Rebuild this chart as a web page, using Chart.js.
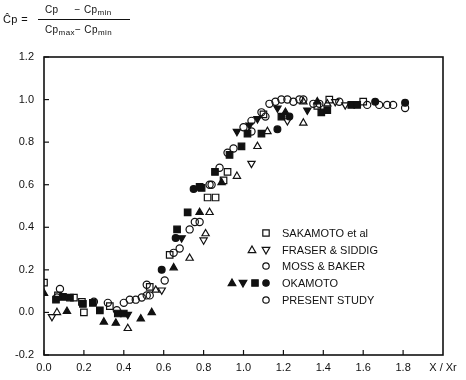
<!DOCTYPE html>
<html>
<head>
<meta charset="utf-8">
<script src="https://cdn.jsdelivr.net/npm/chart.js@4.4.0/dist/chart.umd.min.js"></script>
<style>
  html, body { margin: 0; padding: 0; background: #fff; }
  #wrap { position: relative; width: 466px; height: 380px; font-family: "Liberation Sans", Arial, sans-serif; color: #111; }
  canvas { position: absolute; left: 0; top: 0; }
  .t { position: absolute; font-size: 10px; white-space: nowrap; letter-spacing: 0.4px; }
  .t sub { font-size: 8px; vertical-align: -2px; line-height: 0; }
  #fline { position: absolute; left: 38px; top: 19px; width: 92px; height: 0; border-top: 1.2px solid #111; }
</style>
</head>
<body>
<div id="wrap">
  <canvas id="c" width="466" height="380"></canvas>
  <div class="t" style="left:3px; top:13px; font-size:11px;">Ĉp =</div>
  <div class="t" style="left:45px; top:4px;">Cp &nbsp;&nbsp;&nbsp; − Cp<sub>min</sub></div>
  <div id="fline"></div>
  <div class="t" style="left:45px; top:24px;">Cp<sub>max</sub>− Cp<sub>min</sub></div>
</div>
<script>
// ---- Data ----
const xTickValues = [0.0, 0.2, 0.4, 0.6, 0.8, 1.0, 1.2, 1.4, 1.6, 1.8];
const xAxisTitle = "X / Xr";
const yTickValues = [-0.2, 0.0, 0.2, 0.4, 0.6, 0.8, 1.0, 1.2];

const legendLabels = ["SAKAMOTO et al", "FRASER & SIDDIG", "MOSS & BAKER", "OKAMOTO", "PRESENT STUDY"];

const sakamotoX = [0.0, 0.07, 0.15, 0.19, 0.20, 0.33, 0.53, 0.63, 0.82, 0.86, 0.90, 0.92, 1.10, 1.37, 1.43, 1.60];
const sakamotoY = [0.14, 0.08, 0.07, 0.05, 0.0, 0.03, 0.12, 0.27, 0.54, 0.54, 0.62, 0.66, 0.93, 0.97, 1.0, 0.99];

const fraserUpX = [0.065, 0.42, 0.56, 0.73, 0.81, 0.83, 0.967, 1.07, 1.12, 1.30, 1.30, 1.42];
const fraserUpY = [0.0, -0.075, 0.105, 0.255, 0.37, 0.47, 0.64, 0.78, 0.85, 0.89, 0.99, 0.98];
const fraserDownX = [0.04, 0.59, 0.80, 1.04, 1.22, 1.46, 1.51];
const fraserDownY = [-0.02, 0.105, 0.34, 0.70, 0.90, 0.99, 0.975];

const mossX = [0.065, 0.08, 0.25, 0.32, 0.40, 0.43, 0.46, 0.49, 0.515, 0.515, 0.53, 0.605, 0.65, 0.68, 0.73, 0.756, 0.78, 0.84, 0.88, 0.92, 0.95, 1.00, 1.04, 1.04];
const mossY = [0.07, 0.11, 0.05, 0.045, 0.045, 0.06, 0.06, 0.07, 0.08, 0.13, 0.08, 0.15, 0.28, 0.30, 0.39, 0.425, 0.425, 0.60, 0.68, 0.75, 0.77, 0.87, 0.85, 0.90];

const okaTriUpX = [0.0, 0.115, 0.30, 0.36, 0.485, 0.54, 0.65, 0.78, 0.89, 1.21, 1.37];
const okaTriUpY = [0.09, 0.005, -0.045, -0.05, -0.03, 0.0, 0.21, 0.47, 0.61, 0.94, 0.99];
const okaTriDownX = [0.42, 0.69, 0.967, 1.03, 1.07, 1.17, 1.32];
const okaTriDownY = [-0.01, 0.35, 0.85, 0.88, 0.91, 0.96, 0.95];
const okaSquareX = [0.06, 0.095, 0.13, 0.195, 0.245, 0.28, 0.37, 0.40, 0.667, 0.72, 0.78, 0.79, 0.857, 0.93, 0.99, 1.02, 1.09, 1.19, 1.39, 1.42, 1.54, 1.57];
const okaSquareY = [0.06, 0.073, 0.07, 0.04, 0.045, 0.01, -0.005, -0.005, 0.39, 0.47, 0.59, 0.585, 0.66, 0.74, 0.78, 0.84, 0.84, 0.92, 0.94, 0.95, 0.975, 0.975];
const okaCircleX = [0.59, 0.66, 0.75, 1.17, 1.23, 1.66, 1.81];
const okaCircleY = [0.20, 0.35, 0.58, 0.86, 0.92, 0.99, 0.985];

const presentX = [0.365, 0.83, 1.09, 1.11, 1.13, 1.16, 1.19, 1.22, 1.25, 1.28, 1.30, 1.35, 1.38, 1.48, 1.62, 1.68, 1.72, 1.75, 1.81];
const presentY = [0.01, 0.60, 0.94, 0.92, 0.98, 0.99, 1.0, 1.0, 0.99, 1.0, 1.0, 0.98, 0.98, 0.99, 0.975, 0.975, 0.975, 0.975, 0.96];

// ---- Build ----
const INK = '#111';
function pts(xs, ys) { return xs.map((x, i) => ({ x: x, y: ys[i] })); }
function ds(label, xs, ys, style, filled, rotation, radius) {
  return {
    label: label,
    data: pts(xs, ys),
    pointStyle: style,
    rotation: rotation || 0,
    pointRadius: radius || 4,
    borderWidth: 1.2,
    borderColor: INK,
    backgroundColor: filled ? INK : 'rgba(0,0,0,0)',
    showLine: false
  };
}
const datasets = [
  ds(legendLabels[0], sakamotoX, sakamotoY, 'rect', false, 0, 4.6),
  ds(legendLabels[1], fraserUpX, fraserUpY, 'triangle', false, 0, 4.2),
  ds(legendLabels[1], fraserDownX, fraserDownY, 'triangle', false, 180, 4.2),
  ds(legendLabels[2], mossX, mossY, 'circle', false, 0, 3.6),
  ds(legendLabels[3], okaTriUpX, okaTriUpY, 'triangle', true, 0, 4.2),
  ds(legendLabels[3], okaTriDownX, okaTriDownY, 'triangle', true, 180, 4.2),
  ds(legendLabels[3], okaSquareX, okaSquareY, 'rect', true, 0, 4.6),
  ds(legendLabels[3], okaCircleX, okaCircleY, 'circle', true, 0, 3.4),
  ds(legendLabels[4], presentX, presentY, 'circle', false, 0, 3.6)
];

function marker(ctx, kind, filled, x, y) {
  ctx.save();
  ctx.lineWidth = 1.2;
  ctx.strokeStyle = INK;
  ctx.fillStyle = INK;
  ctx.beginPath();
  if (kind === 'circle') {
    ctx.arc(x, y, 3.2, 0, Math.PI * 2);
  } else if (kind === 'rect') {
    ctx.rect(x - 3.2, y - 3.2, 6.4, 6.4);
  } else if (kind === 'up') {
    ctx.moveTo(x, y - 4); ctx.lineTo(x + 3.8, y + 2.6); ctx.lineTo(x - 3.8, y + 2.6); ctx.closePath();
  } else if (kind === 'down') {
    ctx.moveTo(x, y + 4); ctx.lineTo(x + 3.8, y - 2.6); ctx.lineTo(x - 3.8, y - 2.6); ctx.closePath();
  }
  if (filled) ctx.fill();
  ctx.stroke();
  ctx.restore();
}

const framePlugin = {
  id: 'frame',
  afterDraw(chart) {
    const ctx = chart.ctx;
    const a = chart.chartArea;
    const xs = chart.scales.x, ys = chart.scales.y;
    ctx.save();
    ctx.strokeStyle = INK;
    ctx.lineWidth = 1.6;
    ctx.strokeRect(a.left, a.top, a.right - a.left, a.bottom - a.top);
    ctx.lineWidth = 1.2;
    yTickValues.forEach(v => {
      const py = ys.getPixelForValue(v);
      ctx.beginPath(); ctx.moveTo(a.left, py); ctx.lineTo(a.left + 5, py); ctx.stroke();
    });
    xTickValues.forEach(v => {
      const px = xs.getPixelForValue(v);
      ctx.beginPath(); ctx.moveTo(px, a.bottom); ctx.lineTo(px, a.bottom - 5); ctx.stroke();
    });
    // legend
    ctx.font = '11px "Liberation Sans", Arial, sans-serif';
    ctx.fillStyle = INK;
    ctx.textBaseline = 'middle';
    ctx.textAlign = 'left';
    const tx = 282, rows = [233, 250, 266, 283, 300];
    marker(ctx, 'rect', false, 266, rows[0]);
    marker(ctx, 'up', false, 252, rows[1]);
    marker(ctx, 'down', false, 266, rows[1]);
    marker(ctx, 'circle', false, 266, rows[2]);
    marker(ctx, 'up', true, 232, rows[3]);
    marker(ctx, 'down', true, 243, rows[3]);
    marker(ctx, 'rect', true, 255, rows[3]);
    marker(ctx, 'circle', true, 266, rows[3]);
    marker(ctx, 'circle', false, 266, rows[4]);
    legendLabels.forEach((t, i) => { ctx.fillText(t, tx, rows[i] + 0.5); });
    ctx.restore();
  }
};

new Chart(document.getElementById('c'), {
  type: 'scatter',
  data: { datasets: datasets },
  options: {
    responsive: false,
    animation: false,
    devicePixelRatio: 1,
    layout: { padding: { top: 57, right: 23, bottom: 0, left: 0 } },
    plugins: { legend: { display: false }, tooltip: { enabled: false } },
    scales: {
      x: {
        type: 'linear', min: 0, max: 2.0,
        afterFit(s) { s.height = 25; },
        afterBuildTicks(s) { s.ticks = xTickValues.concat([2.0]).map(v => ({ value: v })); },
        grid: { display: false, drawTicks: false }, border: { display: false },
        ticks: {
          padding: 6, color: INK, maxRotation: 0, autoSkip: false,
          font: { family: '"Liberation Sans", Arial, sans-serif', size: 11 },
          callback: (v) => (v > 1.95 ? xAxisTitle : Number(v).toFixed(1))
        }
      },
      y: {
        type: 'linear', min: -0.2, max: 1.2,
        afterFit(s) { s.width = 44; },
        afterBuildTicks(s) { s.ticks = yTickValues.map(v => ({ value: v })); },
        grid: { display: false, drawTicks: false }, border: { display: false },
        ticks: {
          padding: 10, color: INK, autoSkip: false,
          font: { family: '"Liberation Sans", Arial, sans-serif', size: 11 },
          callback: (v) => Number(v).toFixed(1)
        }
      }
    }
  },
  plugins: [framePlugin]
});
</script>
</body>
</html>
